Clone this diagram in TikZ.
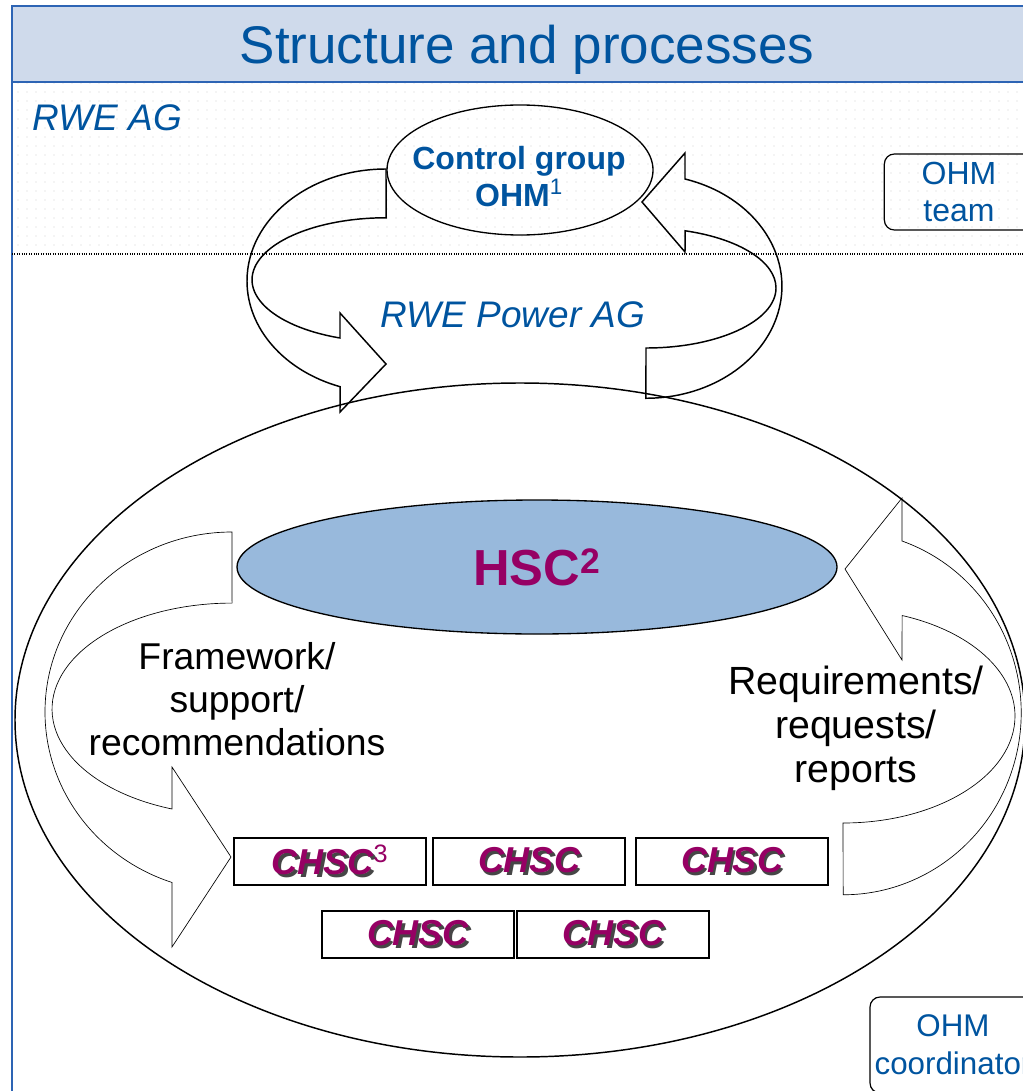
\documentclass[tikz,border=0pt]{standalone}
\usepackage{fontspec}
\setmainfont{Liberation Sans}
\usetikzlibrary{positioning,calc,shapes.geometric,patterns.meta}
\definecolor{rweblue}{RGB}{0,84,159}
\definecolor{bandblue}{RGB}{207,218,235}
\definecolor{frameblue}{RGB}{45,100,180}
\definecolor{hscfill}{RGB}{152,185,220}
\definecolor{chscred}{RGB}{150,0,100}
\definecolor{shadowgray}{RGB}{70,70,70}

\newcommand{\shadowed}[1]{\makebox[0pt][l]{\hspace*{1.9pt}\raisebox{-1.9pt}{\textcolor{shadowgray}{#1}}}#1}

\tikzdeclarepattern{
  name=faintdots,
  type=uncolored,
  bounding box={(-1pt,-1pt) and (1pt,1pt)},
  tile size={(6.75pt,6.75pt)},
  code={\fill (0pt,0pt) circle (0.45pt);}
}

\tikzset{
  bluetext/.style={text=rweblue, font=\fontsize{27.75}{32}\selectfont\itshape},
  flowtext/.style={align=center, font=\fontsize{28}{32}\selectfont},
  ohmbox/.style={draw, rounded corners=7.5pt, line width=0.9pt, align=center,
    text=rweblue, minimum width=112pt, minimum height=57pt},
  chscbox/.style={draw, line width=0.9pt, minimum width=144pt, minimum height=35.25pt,
    text=chscred, font=\fontsize{27}{30}\selectfont\bfseries\itshape},
  toparrow/.style={line width=1.1pt, line join=miter},
  innerarrow/.style={line width=0.5pt, line join=miter},
}

\begin{document}
\begin{tikzpicture}[x=0.75pt, y=-0.75pt]
    \useasboundingbox (0,0) rectangle (1023,1091);
    \clip (0,0) rectangle (1023,1091);

    % Title band and frame
    \fill[bandblue] (12,6) rectangle (1040,82);
    \fill[pattern={faintdots}, pattern color=black!18] (14,84) rectangle (1023,253);
    \draw[frameblue, line width=1.5pt] (1040,6) -- (12,6) -- (12,1100);
    \draw[frameblue, line width=1.5pt] (12,82) -- (1040,82);
    \node[text=rweblue, font=\fontsize{39.75}{44}\selectfont] (title) at (527,50) {Structure and processes};

    % Border between the two companies
    \draw[densely dotted, line width=0.8pt] (12,254) -- (1023,254);
    \node[bluetext, anchor=west] (rweag) at (28,118) {RWE AG};
    \node[bluetext] (power) at (513,315) {RWE Power AG};

    % Control group
    \node[ellipse, draw, line width=1pt, minimum width=199.5pt, minimum height=97.5pt] (ctrl) at (520,170) {};
    \node[align=center, text=rweblue, font=\fontsize{24}{27.75}\selectfont\bfseries]
        (ctrl-t) at (519,177) {Control group\\OHM\textsuperscript{\mdseries 1}};

    % Curved arrows round the control group
    \draw[toparrow] (386,169) arc[start angle=-90, end angle=-250.7, x radius=139, y radius=112]
        -- (340,412) -- (386,364) -- (340,313) -- (340,338)
        arc[start angle=-249.9, end angle=-90, x radius=134, y radius=62] -- cycle;
    \draw[toparrow] (642,202) -- (685,153) -- (685,179)
        arc[start angle=-73.3, end angle=90, x radius=136, y radius=112] -- (646,348)
        arc[start angle=90, end angle=-72.5, x radius=130, y radius=60] -- (685,252) -- cycle;

    % OHM team
    \node[ohmbox, font=\fontsize{24}{27.75}\selectfont] (team) at (959,192) {OHM\\team};

    % Company ellipse
    \node[ellipse, draw, line width=1.1pt, minimum width=757.5pt, minimum height=505.5pt] (power-ell) at (520,720) {};

    % HSC
    \node[ellipse, draw, fill=hscfill, line width=1pt, minimum width=450pt, minimum height=100.5pt,
      text=chscred, font=\fontsize{38}{40}\selectfont\bfseries] (hsc) at (537,567) {HSC\textsuperscript{2}};

    % Framework arrow (HSC to CHSC)
    \draw[innerarrow] (232,532) arc[start angle=-90, end angle=-251.3, x radius=187, y radius=180]
        -- (172,947) -- (231,857) -- (172,767) -- (172,809)
        arc[start angle=-250.5, end angle=-90, x radius=180, y radius=106] -- cycle;
    \node[flowtext] (frame) at (237,699) {Framework/\\support/\\recommendations};

    % Requirements arrow (CHSC to HSC)
    \draw[innerarrow] (845,569) -- (902,498) -- (902,541)
        arc[start angle=-70.7, end angle=90, x radius=178, y radius=182] -- (843,823)
        arc[start angle=90, end angle=-69.9, x radius=172, y radius=107] -- (902,660) -- cycle;
    \node[flowtext, font=\fontsize{29.5}{33}\selectfont] (req) at (856,728) {Requirements/\\requests/\\reports};

    % CHSC boxes
    \foreach \n/\x/\y/\t in {b1/330/861.5/{\shadowed{CHSC}\textsuperscript{\mdseries\upshape 3}},
                             b2/529/861.5/\shadowed{CHSC}, b3/732/861.5/\shadowed{CHSC},
                             b4/418/934.5/\shadowed{CHSC}, b5/613/934.5/\shadowed{CHSC}} {
        \node[chscbox] (\n) at (\x,\y) {\t};
    }

    % OHM coordinator
    \node[ohmbox, font=\fontsize{23.5}{28.5}\selectfont, minimum width=124.5pt, minimum height=72pt]
        (coord) at (953,1045) {OHM\\coordinator};
\end{tikzpicture}
\end{document}
